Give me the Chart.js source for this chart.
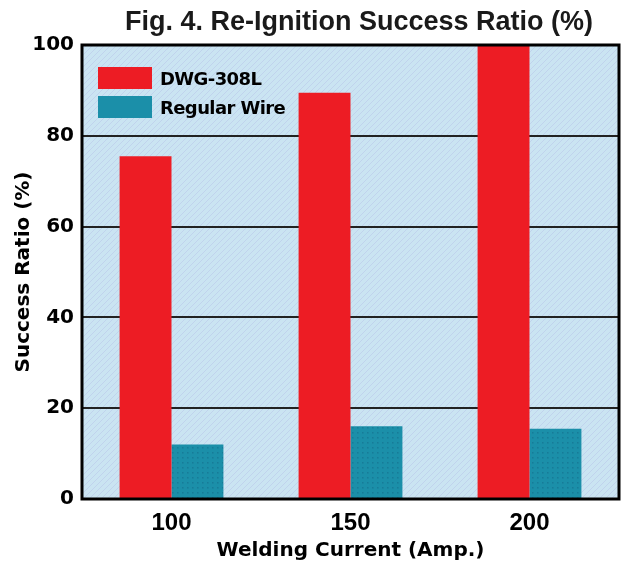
<!DOCTYPE html>
<html>
<head>
<meta charset="utf-8">
<script src="https://cdn.jsdelivr.net/npm/chart.js@4.4.1/dist/chart.umd.min.js"></script>
<style>
  html, body { margin: 0; padding: 0; background: #fff; }
  #wrap { position: relative; width: 623px; height: 567px; overflow: hidden; }
  #c { position: absolute; left: 0; top: 0; }
  #title { position: absolute; left: 125px; top: 5px; font-family: "Liberation Sans", Arial, sans-serif; font-weight: bold; font-size: 27px; line-height: 32px; color: #1a1a1a; white-space: nowrap; }
  #legend { position: absolute; left: 98px; top: 67px; font-family: "DejaVu Sans", sans-serif; font-weight: bold; font-size: 18px; color: #000; }
  .item { display: flex; align-items: center; height: 22px; margin-bottom: 7px; }
  .box { width: 54px; height: 22px; margin-right: 8px; }
  .lbl { letter-spacing: -0.6px; white-space: nowrap; }
</style>
</head>
<body>
<div id="wrap">
  <canvas id="c" width="623" height="567"></canvas>
  <div id="title"></div>
  <div id="legend"></div>
</div>
<script>
const chartTitle = 'Fig. 4. Re-Ignition Success Ratio (%)';
const categories = ['100', '150', '200'];
const seriesNames = ['DWG-308L', 'Regular Wire'];
const dwg308L = [75.5, 89.5, 100];
const regularWire = [12, 16, 15.5];
const yTicks = [0, 20, 40, 60, 80, 100];
const xAxisTitle = 'Welding Current (Amp.)';
const yAxisTitle = 'Success Ratio (%)';

const RED = '#ed1c24';
const TEAL = '#1b8fa9';

document.getElementById('title').textContent = chartTitle;

function makeHatch() {
  const t = document.createElement('canvas');
  t.width = 6; t.height = 6;
  const g = t.getContext('2d');
  g.fillStyle = '#cae4f2';
  g.fillRect(0, 0, 6, 6);
  g.strokeStyle = 'rgba(175,180,230,0.35)';
  g.lineWidth = 1;
  g.beginPath();
  g.moveTo(-1, 7); g.lineTo(7, -1);
  g.stroke();
  return t;
}
function makeDots() {
  const t = document.createElement('canvas');
  t.width = 5; t.height = 5;
  const g = t.getContext('2d');
  g.fillStyle = TEAL;
  g.fillRect(0, 0, 5, 5);
  g.fillStyle = 'rgba(20,100,130,0.45)';
  g.fillRect(2, 2, 1.5, 1.5);
  return t;
}

const ctx = document.getElementById('c').getContext('2d');
const hatchPattern = ctx.createPattern(makeHatch(), 'repeat');
const dotPattern = ctx.createPattern(makeDots(), 'repeat');

// HTML legend built from series names
const legend = document.getElementById('legend');
[RED, TEAL].forEach((col, i) => {
  const it = document.createElement('div'); it.className = 'item';
  const b = document.createElement('div'); b.className = 'box'; b.style.background = col;
  const l = document.createElement('div'); l.className = 'lbl'; l.textContent = seriesNames[i];
  it.appendChild(b); it.appendChild(l); legend.appendChild(it);
});

const plotDeco = {
  id: 'plotDeco',
  beforeDraw(chart) {
    const a = chart.chartArea, c = chart.ctx;
    c.save();
    c.fillStyle = hatchPattern;
    c.fillRect(a.left, a.top, a.right - a.left, a.bottom - a.top);
    c.restore();
  },
  afterDraw(chart) {
    const a = chart.chartArea, c = chart.ctx;
    c.save();
    c.strokeStyle = '#000';
    c.lineWidth = 3;
    c.strokeRect(a.left, a.top, a.right - a.left, a.bottom - a.top);
    c.restore();
  }
};

new Chart(ctx, {
  type: 'bar',
  data: {
    labels: categories,
    datasets: [
      { label: seriesNames[0], data: dwg308L, backgroundColor: RED, borderWidth: 0 },
      { label: seriesNames[1], data: regularWire, backgroundColor: dotPattern, borderWidth: 0 }
    ]
  },
  options: {
    responsive: false,
    animation: false,
    devicePixelRatio: 1,
    layout: { padding: { top: 45, right: 4, left: 0, bottom: 0 } },
    datasets: { bar: { categoryPercentage: 0.58, barPercentage: 1.0 } },
    plugins: { legend: { display: false }, title: { display: false }, tooltip: { enabled: false } },
    scales: {
      x: {
        grid: { display: false, drawTicks: false },
        border: { display: false },
        ticks: { color: '#000', padding: 10, font: { family: 'Liberation Sans', weight: 'bold', size: 24 } },
        title: { display: true, text: xAxisTitle, color: '#000', padding: { top: 0, bottom: 4 },
                 font: { family: 'DejaVu Sans', weight: 'bold', size: 20 } },
        afterFit(s) { s.height = 68; }
      },
      y: {
        min: 0, max: 100,
        afterBuildTicks(s) { s.ticks = yTicks.map(v => ({ value: v })); },
        grid: { color: '#222', lineWidth: 2, drawTicks: false },
        border: { display: false },
        ticks: { color: '#000', padding: 8, font: { family: 'DejaVu Sans', weight: 'bold', size: 20 } },
        title: { display: true, text: yAxisTitle, color: '#000', padding: { top: 12, bottom: 0 },
                 font: { family: 'DejaVu Sans', weight: 'bold', size: 20 } },
        afterFit(s) { s.width = 82; }
      }
    }
  },
  plugins: [plotDeco]
});
</script>
</body>
</html>
